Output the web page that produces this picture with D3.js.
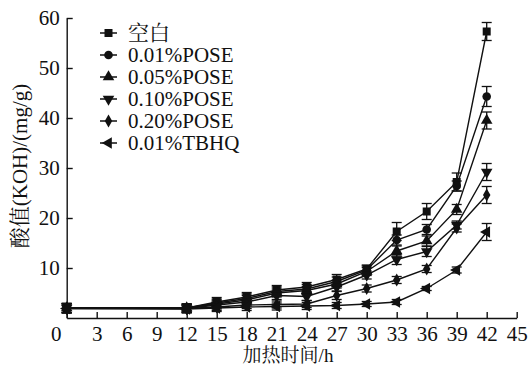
<!DOCTYPE html>
<html>
<head>
<meta charset="utf-8">
<script src="https://cdn.jsdelivr.net/npm/d3@7/dist/d3.min.js"></script>
<style>
  body { margin: 0; background: #fff; }
  svg { display: block; }
  text { font-family: "Liberation Serif", "Noto Serif CJK SC", "Noto Sans CJK SC", serif; fill: #111; }
</style>
</head>
<body>
<div id="container"></div>
<script>
const hours = [0, 12, 15, 18, 21, 24, 27, 30, 33, 36, 39, 42];
const seriesNames = ['空白', '0.01%POSE', '0.05%POSE', '0.10%POSE', '0.20%POSE', '0.01%TBHQ'];

const blank = [2.0, 2.0, 3.2, 4.2, 5.6, 6.2, 7.7, 9.8, 17.3, 21.3, 27.2, 57.3];
const pose001 = [2.0, 2.0, 3.0, 3.9, 5.3, 5.8, 7.3, 9.6, 15.6, 17.7, 26.4, 44.3];
const pose005 = [2.0, 2.0, 2.8, 3.6, 5.0, 5.5, 6.8, 9.3, 13.4, 15.4, 21.7, 39.5];
const pose010 = [2.0, 1.9, 2.6, 3.2, 4.5, 4.3, 6.2, 8.6, 11.7, 13.3, 18.6, 29.2];
const pose020 = [1.9, 1.9, 2.2, 2.6, 2.7, 2.8, 4.5, 5.9, 7.6, 9.8, 18.0, 24.6];
const tbhq = [1.9, 1.8, 2.0, 2.2, 2.3, 2.4, 2.5, 2.8, 3.2, 5.9, 9.6, 17.2];

const blankErr = [0.9, 0.8, 0.9, 0.9, 0.9, 0.9, 1.0, 0.8, 1.8, 1.6, 1.8, 1.8];
const pose001Err = [0.9, 0.8, 0.8, 0.9, 0.9, 0.9, 0.9, 0.8, 1.0, 1.0, 1.0, 2.0];
const pose005Err = [0.9, 0.8, 0.8, 0.9, 0.8, 0.8, 0.8, 0.8, 1.0, 1.0, 1.0, 1.7];
const pose010Err = [0.9, 0.8, 0.8, 0.8, 0.8, 0.8, 0.8, 0.8, 1.0, 1.0, 0.8, 1.7];
const pose020Err = [0.9, 0.8, 0.7, 0.7, 0.7, 0.7, 0.8, 0.7, 0.7, 0.7, 0.8, 1.7];
const tbhqErr = [0.9, 0.8, 0.7, 0.7, 0.7, 0.7, 0.6, 0.5, 0.5, 0.4, 0.6, 1.7];

const xTicks = d3.range(0, 46, 3);
const yTicks = [10, 20, 30, 40, 50, 60];

const values = [blank, pose001, pose005, pose010, pose020, tbhq];
const errors = [blankErr, pose001Err, pose005Err, pose010Err, pose020Err, tbhqErr];

// marker shape + rotation for each series
const markers = [
  { type: d3.symbolSquare, size: 64, rot: 0 },
  { type: d3.symbolCircle, size: 58, rot: 0 },
  { type: d3.symbolTriangle, size: 58, rot: 0 },
  { type: d3.symbolTriangle, size: 58, rot: 180 },
  { type: d3.symbolDiamond, size: 48, rot: 0 },
  { type: d3.symbolTriangle, size: 58, rot: -90 }
];

const width = 532, height = 367;
const svg = d3.select('#container').append('svg')
  .attr('width', width)
  .attr('height', height);

svg.append('rect').attr('width', width).attr('height', height).attr('fill', '#fff');

const x = d3.scaleLinear().domain([0, 45]).range([66.7, 516.7]);
const y = d3.scaleLinear().domain([0, 60]).range([318, 18]);

// axes
const xAxis = svg.append('g')
  .attr('transform', `translate(0, ${y(0)})`)
  .call(d3.axisBottom(x).tickValues(xTicks).tickSize(-6).tickSizeOuter(0).tickPadding(8));

const yAxis = svg.append('g')
  .attr('transform', `translate(${x(0)}, 0)`)
  .call(d3.axisLeft(y).tickValues(yTicks).tickSize(-6).tickSizeOuter(0).tickPadding(7));

[xAxis, yAxis].forEach((g) => {
  g.selectAll('path, line').attr('stroke', '#111').attr('stroke-width', 1.4);
  g.selectAll('text').style('font-size', '21px').attr('fill', '#111');
});
xAxis.selectAll('.tick text').filter((d) => d === 0).attr('dx', -11);

svg.append('text')
  .attr('x', 288)
  .attr('y', 362)
  .attr('text-anchor', 'middle')
  .style('font-size', '19px')
  .text('加热时间/h');

svg.append('text')
  .attr('transform', 'translate(27, 166) rotate(-90)')
  .attr('text-anchor', 'middle')
  .style('font-size', '21px')
  .text('酸值(KOH)/(mg/g)');

const line = d3.line()
  .x((d) => x(d[0]))
  .y((d) => y(d[1]));

const symbolPath = (m) => d3.symbol().type(m.type).size(m.size)();

values.forEach((vals, s) => {
  const pts = hours.map((h, i) => [h, vals[i], errors[s][i]]);
  const g = svg.append('g');

  g.append('path')
    .datum(pts)
    .attr('d', line)
    .attr('fill', 'none')
    .attr('stroke', '#111')
    .attr('stroke-width', 1.4);

  const eb = g.selectAll('.err').data(pts).enter().append('g').attr('class', 'err');
  eb.append('line')
    .attr('x1', (d) => x(d[0])).attr('x2', (d) => x(d[0]))
    .attr('y1', (d) => y(d[1] + d[2])).attr('y2', (d) => y(d[1] - d[2]));
  eb.append('line')
    .attr('x1', (d) => x(d[0]) - 5).attr('x2', (d) => x(d[0]) + 5)
    .attr('y1', (d) => y(d[1] + d[2])).attr('y2', (d) => y(d[1] + d[2]));
  eb.append('line')
    .attr('x1', (d) => x(d[0]) - 5).attr('x2', (d) => x(d[0]) + 5)
    .attr('y1', (d) => y(d[1] - d[2])).attr('y2', (d) => y(d[1] - d[2]));
  eb.selectAll('line').attr('stroke', '#111').attr('stroke-width', 1.3);

  g.selectAll('.mk').data(pts).enter().append('path')
    .attr('class', 'mk')
    .attr('d', symbolPath(markers[s]))
    .attr('transform', (d) => `translate(${x(d[0])}, ${y(d[1])}) rotate(${markers[s].rot})`)
    .attr('fill', '#111');
});

// legend
const legend = svg.append('g').attr('transform', 'translate(100, 33)');
seriesNames.forEach((name, i) => {
  const row = legend.append('g').attr('transform', `translate(0, ${i * 22})`);
  row.append('line')
    .attr('x1', 0).attr('x2', 17)
    .attr('stroke', '#111').attr('stroke-width', 1.5);
  row.append('path')
    .attr('d', symbolPath(markers[i]))
    .attr('transform', `translate(8.5, 0) rotate(${markers[i].rot})`)
    .attr('fill', '#111');
  row.append('text')
    .attr('x', 28)
    .attr('dy', '0.35em')
    .style('font-size', '21px')
    .text(name);
});
</script>
</body>
</html>
